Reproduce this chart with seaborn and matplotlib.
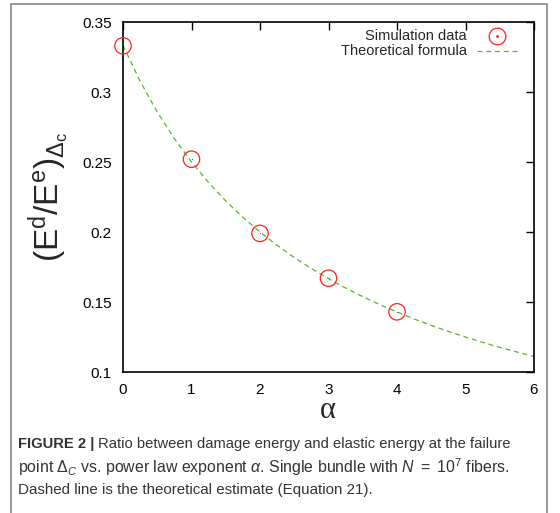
import matplotlib
matplotlib.use("Agg")
import matplotlib.pyplot as plt
import seaborn as sns
import pandas as pd
from matplotlib.patches import Rectangle

sns.set_theme(style="white")
plt.rcParams['font.family'] = ['Liberation Sans', 'DejaVu Sans']
plt.rcParams['mathtext.fontset'] = 'custom'
plt.rcParams['mathtext.rm'] = 'Liberation Sans'
plt.rcParams['mathtext.it'] = 'Liberation Sans:italic'

# data
sim_alpha = [0, 1, 2, 3, 4]
sim_ratio = [0.333, 0.252, 0.199, 0.167, 0.143]
theo_alpha = [0, 0.25, 0.5, 0.75, 1, 1.25, 1.5, 1.75, 2, 2.25, 2.5, 2.75, 3,
              3.25, 3.5, 3.75, 4, 4.25, 4.5, 4.75, 5, 5.25, 5.5, 5.75, 6]
theo_ratio = [0.3333, 0.3077, 0.2857, 0.2667, 0.25, 0.2353, 0.2222, 0.2105, 0.2,
              0.1905, 0.1818, 0.1739, 0.1667, 0.16, 0.1538, 0.1481, 0.1429,
              0.1379, 0.1333, 0.129, 0.125, 0.1212, 0.1176, 0.1143, 0.1111]
x_ticks = [0, 1, 2, 3, 4, 5, 6]
y_ticks = [0.1, 0.15, 0.2, 0.25, 0.3, 0.35]
y_ticklabels = ["0.1", "0.15", "0.2", "0.25", "0.3", "0.35"]

sim = pd.DataFrame({"alpha": sim_alpha, "ratio": sim_ratio})
theo = pd.DataFrame({"alpha": theo_alpha, "ratio": theo_ratio})

W, H = 560, 513
fig = plt.figure(figsize=(W / 100, H / 100), dpi=100)
fig.patch.set_facecolor("white")

# outer frame
fig.patches.append(Rectangle((11 / W, -0.01), (547 - 11) / W, 1 - 4 / H + 0.01,
                             transform=fig.transFigure, fill=False,
                             edgecolor="#888888", linewidth=1.2))

ax = fig.add_axes([123 / W, 1 - 372 / H, (534 - 123) / W, (372 - 22) / H])

sns.lineplot(data=theo, x="alpha", y="ratio", ax=ax, color="#55b824",
             linestyle=(0, (4, 3)), linewidth=0.9, legend=False)
sns.scatterplot(data=sim, x="alpha", y="ratio", ax=ax, marker="o",
                facecolor="none", edgecolor="#ff2020", linewidth=0.9, s=140,
                legend=False, clip_on=False, zorder=5)
sns.scatterplot(data=sim, x="alpha", y="ratio", ax=ax, marker=".",
                color="#ff2020", s=3, linewidth=0, legend=False, clip_on=False)

ax.set_xlim(0, 6)
ax.set_ylim(0.1, 0.35)
ax.set_xticks(x_ticks)
ax.set_yticks(y_ticks)
ax.set_yticklabels(y_ticklabels)
ax.tick_params(direction="in", length=6, width=1, top=True, right=True,
               labelsize=11, colors="black", pad=8)
for s in ax.spines.values():
    s.set_color("black")
    s.set_linewidth(1.2)

ax.set_xlabel("")
ax.set_ylabel(r"$(\mathrm{E^d/E^e})_{\mathrm{\Delta_c}}$", fontsize=24, labelpad=8)
fig.text(328 / W, 1 - 411 / H, "α", family=["Liberation Serif", "DejaVu Serif"],
         fontsize=22, ha="center", va="center")

# legend (gnuplot style, text right-aligned with sample on right)
ax.text(0.837, 0.96, "Simulation data", transform=ax.transAxes, ha="right",
        va="center", fontsize=10.5)
ax.text(0.837, 0.917, "Theoretical formula", transform=ax.transAxes, ha="right",
        va="center", fontsize=10.5)
ax.plot([0.91], [0.96], transform=ax.transAxes, marker="o", ms=12,
        mfc="none", mec="#ff2020", mew=0.9, ls="none")
ax.plot([0.91], [0.96], transform=ax.transAxes, marker=".", ms=2,
        color="#ff2020", ls="none")
ax.plot([0.861, 0.959], [0.917, 0.917], transform=ax.transAxes, color="#55b824",
        linestyle=(0, (4, 3)), linewidth=0.9)

# caption
cap_col = "#333333"
fig.text(18 / W, 1 - 444 / H, "FIGURE 2 |", fontsize=10.6, fontweight="bold",
         color=cap_col, va="center")
fig.text(98 / W, 1 - 444 / H,
         "Ratio between damage energy and elastic energy at the failure",
         fontsize=10.6, color=cap_col, va="center")
fig.text(18 / W, 1 - 467 / H,
         r"point $\Delta_C$ vs. power law exponent $\alpha$. Single bundle with $N\ =\ 10^7$ fibers.",
         fontsize=11.4, color=cap_col, va="center")
fig.text(18 / W, 1 - 490 / H,
         "Dashed line is the theoretical estimate (Equation 21).",
         fontsize=10.9, color=cap_col, va="center")

fig.savefig("out.png", dpi=100, facecolor="white")
